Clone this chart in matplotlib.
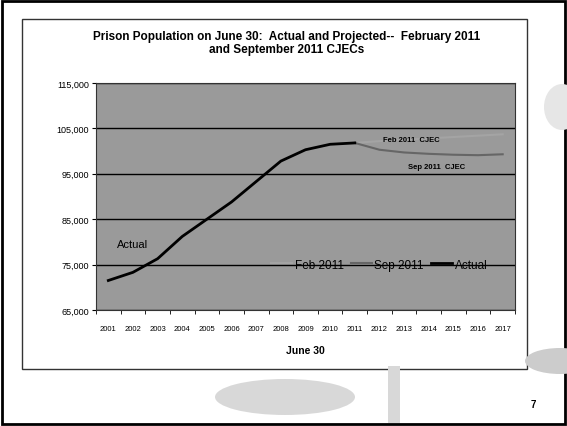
import matplotlib
matplotlib.use('Agg')
import matplotlib.pyplot as plt
from matplotlib.patches import Rectangle, Ellipse
from matplotlib.lines import Line2D

# Data
years = [str(y) for y in range(2001, 2018)]
actual_years = years[:11]          # 2001-2011
actual = [71500, 73300, 76300, 81200, 85000, 88800, 93300, 97800, 100300, 101500, 101800]
proj_years = years[10:]            # 2011-2017
sep_2011 = [101800, 100300, 99700, 99400, 99200, 99100, 99300]
feb_2011 = [101800, 102200, 102500, 102800, 103100, 103400, 103700]
y_ticks = [65000, 75000, 85000, 95000, 105000, 115000]

plt.rcParams['font.family'] = ['Liberation Sans', 'DejaVu Sans']

W, H = 567, 427
fig = plt.figure(figsize=(W / 100, H / 100), dpi=100)

# slide frame and chart box
fig.patches.append(Rectangle((0.004, 0.005), 0.992, 0.99, transform=fig.transFigure,
                             fill=False, ec='black', lw=2))
fig.patches.append(Rectangle((22 / W, 1 - 370 / H), 505 / W, 350 / H, transform=fig.transFigure,
                             fill=False, ec='#333333', lw=1))
# decorative bits of the slide background
fig.patches.append(Ellipse((285 / W, 1 - 398 / H), 140 / W, 36 / H, transform=fig.transFigure,
                           fc='#cfcfcf', ec='none', alpha=0.8))
fig.patches.append(Rectangle((388 / W, 0.006), 12 / W, 57 / H, transform=fig.transFigure,
                             fc='#d8d8d8', ec='none'))
fig.patches.append(Ellipse((560 / W, 1 - 362 / H), 70 / W, 26 / H, transform=fig.transFigure,
                           fc='#cccccc', ec='none'))
fig.patches.append(Ellipse((562 / W, 1 - 108 / H), 36 / W, 46 / H, transform=fig.transFigure,
                           fc='#e6e6e6', ec='none'))

ax = fig.add_axes([96 / W, 1 - 311 / H, 419 / W, 227 / H])
ax.set_facecolor('#9a9a9a')

x_all = list(range(len(years)))
idx = {y: i for i, y in enumerate(years)}

ax.plot([idx[y] for y in proj_years], feb_2011, color='#a4a4a4', lw=1.5, zorder=3)
ax.plot([idx[y] for y in proj_years], sep_2011, color='#666666', lw=1.5, zorder=3)
ax.plot([idx[y] for y in actual_years], actual, color='black', lw=2, zorder=4)

ax.set_xlim(-0.5, len(years) - 0.5)
ax.set_ylim(65000, 115000)
ax.set_yticks(y_ticks)
ax.set_yticklabels([f'{v:,}' for v in y_ticks], fontsize=6.5)
ax.set_xticks(x_all)
ax.set_xticklabels(years, fontsize=5.5)
ax.set_xticks([i - 0.5 for i in range(len(years) + 1)], minor=True)
ax.tick_params(axis='x', which='major', length=0, pad=11)
ax.tick_params(axis='x', which='minor', length=3, direction='out')
ax.tick_params(axis='y', length=3, direction='out', pad=2)
ax.grid(axis='y', color='black', lw=1)
ax.set_axisbelow(True)
for s in ax.spines.values():
    s.set_color('#333333')
    s.set_linewidth(0.8)

ax.set_xlabel('June 30', fontsize=7.5, fontweight='bold', labelpad=9)

fig.text(287 / W, 1 - 37 / H, 'Prison Population on June 30:  Actual and Projected--  February 2011',
         ha='center', va='center', fontsize=8.5, fontweight='bold')
fig.text(287 / W, 1 - 50 / H, 'and September 2011 CJECs',
         ha='center', va='center', fontsize=8.5, fontweight='bold')

# in-plot labels
ax.text(0.35, 79500, 'Actual', fontsize=8, color='black', va='center')
ax.text(11.15, 102650, 'Feb 2011  CJEC', fontsize=5.5, fontweight='bold', va='center')
ax.text(12.15, 96500, 'Sep 2011  CJEC', fontsize=5.5, fontweight='bold', va='center')

handles = [Line2D([], [], color='#a4a4a4', lw=1.5),
           Line2D([], [], color='#666666', lw=1.5),
           Line2D([], [], color='black', lw=2)]
ax.legend(handles, ['Feb 2011', 'Sep 2011', 'Actual'], loc='center', ncol=3,
          bbox_to_anchor=(0.676, 0.2), frameon=False, fontsize=8.5,
          handlelength=1.8, handletextpad=0.2, columnspacing=0.6)

fig.text(533 / W, 1 - 405 / H, '7', fontsize=7, fontweight='bold', ha='center', va='center')

fig.savefig('out.png', dpi=100)
